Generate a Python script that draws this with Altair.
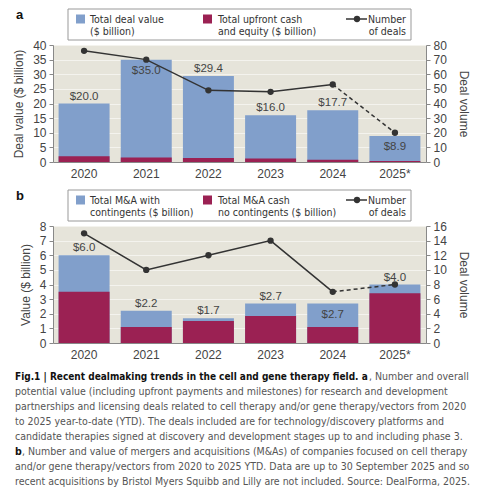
import altair as alt
import pandas as pd

# ---------------- data ----------------
years = ["2020", "2021", "2022", "2023", "2024", "2025*"]

a_total = [20.0, 35.0, 29.4, 16.0, 17.7, 8.9]
a_upfront = [2.0, 1.5, 1.4, 1.2, 0.8, 0.3]
a_deals = [76, 70, 49, 48, 53, 20]
a_label_inside = [False, True, False, False, False, True]

b_total = [6.0, 2.2, 1.7, 2.7, 2.7, 4.0]
b_cash = [3.5, 1.1, 1.5, 1.85, 1.1, 3.4]
b_deals = [15, 10, 12, 14, 7, 8]
b_label_inside = [False, False, False, False, True, False]

caption_lines = [
    "potential value (including upfront payments and milestones) for research and development",
    "partnerships and licensing deals related to cell therapy and/or gene therapy/vectors from 2020",
    "to 2025 year-to-date (YTD). The deals included are for technology/discovery platforms and",
    "candidate therapies signed at discovery and development stages up to and including phase 3.",
]
caption_lines_b = [
    "and/or gene therapy/vectors from 2020 to 2025 YTD. Data are up to 30 September 2025 and so",
    "recent acquisitions by Bristol Myers Squibb and Lilly are not included. Source: DealForma, 2025.",
]

# ---------------- style ----------------
FONT = "Liberation Sans"
COND = "DejaVu Sans Condensed"
BLUE = "#819fcb"
MAROON = "#9b2153"
BG = "#e6e4da"
INK = "#333333"
W = 373
H = 117

one = pd.DataFrame({"k": [0]})


def deco_text(txt, x, y, size=10.5, weight="normal", color="#333333", font=COND, align="left"):
    return alt.Chart(one).mark_text(
        text=txt, align=align, baseline="alphabetic", font=font, fontSize=size,
        fontWeight=weight, color=color,
    ).encode(x=alt.value(x), y=alt.value(y))


def panel(letter, total, part, deals, inside, lmax, lstep, rmax, rstep, ltitle,
          leg1, leg2, extra=()):
    df = pd.DataFrame({"year": years, "total": total, "part": part,
                       "deals": deals, "inside": inside})
    xenc = alt.X("year:N", sort=years, title=None,
                 scale=alt.Scale(paddingInner=0.18, paddingOuter=0.09),
                 axis=alt.Axis(labelAngle=0, ticks=False, domainColor="#888",
                               labelPadding=6, grid=False))
    laxis = alt.Axis(title=ltitle, values=list(range(0, lmax + 1, lstep)),
                     grid=True, gridColor="white", gridOpacity=0.55, titlePadding=7)
    lscale = alt.Scale(domain=[0, lmax], nice=False, zero=True)
    base = alt.Chart(df)
    bars_total = base.mark_bar(color=BLUE).encode(
        x=xenc, y=alt.Y("total:Q", scale=lscale, axis=laxis))
    bars_part = base.mark_bar(color=MAROON).encode(
        x=xenc, y=alt.Y("part:Q", scale=lscale, axis=laxis))
    lab_above = base.transform_filter("!datum.inside").mark_text(
        baseline="bottom", dy=-2, font=FONT, fontSize=11.5, color="#444").encode(
        x=xenc, y=alt.Y("total:Q", scale=lscale, axis=laxis),
        text=alt.Text("total:Q", format="$.1f"))
    lab_inside = base.transform_filter("datum.inside").mark_text(
        baseline="top", dy=5, font=FONT, fontSize=11.5, color="#444").encode(
        x=xenc, y=alt.Y("total:Q", scale=lscale, axis=laxis),
        text=alt.Text("total:Q", format="$.1f"))
    left = alt.layer(bars_total, bars_part, lab_above, lab_inside)

    raxis = alt.Axis(title="Deal volume", orient="right",
                     values=list(range(0, rmax + 1, rstep)), grid=False, titlePadding=10)
    rscale = alt.Scale(domain=[0, rmax], nice=False, zero=True)
    yr = alt.Y("deals:Q", scale=rscale, axis=raxis)
    solid = base.transform_filter("datum.year != '2025*'").mark_line(
        color=INK, strokeWidth=1.5).encode(x=xenc, y=yr)
    dashed = base.transform_filter("datum.year == '2024' || datum.year == '2025*'").mark_line(
        color=INK, strokeWidth=1.5, strokeDash=[4, 3]).encode(x=xenc, y=yr)
    pts = base.mark_point(filled=True, color=INK, size=40, opacity=1).encode(x=xenc, y=yr)
    right = alt.layer(solid, dashed, pts)

    # custom legend
    bt, bb = -36, -5
    box = alt.Chart(one).mark_rect(fill="white", stroke="#999", strokeWidth=1).encode(
        x=alt.value(15), x2=alt.value(358), y=alt.value(bt), y2=alt.value(bb))
    sq1 = alt.Chart(one).mark_rect(color=BLUE).encode(
        x=alt.value(23), x2=alt.value(32), y=alt.value(bt + 5.5), y2=alt.value(bt + 14.5))
    sq2 = alt.Chart(one).mark_rect(color=MAROON).encode(
        x=alt.value(150), x2=alt.value(159), y=alt.value(bt + 5.5), y2=alt.value(bt + 14.5))
    lines = [
        deco_text(leg1[0], 37, bt + 13.5), deco_text(leg1[1], 37, bt + 25.5),
        deco_text(leg2[0], 165, bt + 13.5), deco_text(leg2[1], 165, bt + 25.5),
        deco_text("Number", 353, bt + 13.5, align="right"),
        deco_text("of deals", 353, bt + 25.5, align="right"),
    ]
    lr = alt.Chart(one).mark_rule(color=INK, strokeWidth=1.5).encode(
        x=alt.value(293), x2=alt.value(314), y=alt.value(bt + 10))
    lp = alt.Chart(one).mark_point(filled=True, color=INK, size=40, opacity=1).encode(
        x=alt.value(304), y=alt.value(bt + 10))
    let = deco_text(letter, -37, bt + 10, size=13, weight="bold", color="#111", font=FONT)

    return alt.layer(
        alt.layer(left, right).resolve_scale(y="independent"),
        box, sq1, sq2, lr, lp, let, *lines, *extra,
    ).properties(width=W, height=H)


pa = panel("a", a_total, a_upfront, a_deals, a_label_inside, 40, 5, 80, 10,
           "Deal value ($ billion)",
           ["Total deal value", "($ billion)"],
           ["Total upfront cash", "and equity ($ billion)"])

# caption (anchored below panel b)
cap0 = 154
LS = 15
CS = 10.5
cap = []
cap.append(deco_text("Fig.1 | Recent dealmaking trends in the cell and gene therapy field. a",
                     -38, cap0, size=10, weight="bold", color="#111"))
cap.append(deco_text(", Number and overall", 316, cap0, size=CS, color="#555"))
for i, line in enumerate(caption_lines):
    cap.append(deco_text(line, -38, cap0 + LS * (i + 1), size=CS, color="#555"))
cap.append(deco_text("b", -38, cap0 + LS * 5, size=CS, weight="bold", color="#111"))
cap.append(deco_text(", Number and value of mergers and acquisitions (M&As) of companies focused on cell therapy",
                     -31, cap0 + LS * 5, size=CS, color="#555"))
for i, line in enumerate(caption_lines_b):
    cap.append(deco_text(line, -38, cap0 + LS * (6 + i), size=CS, color="#555"))

pb = panel("b", b_total, b_cash, b_deals, b_label_inside, 8, 1, 16, 2,
           "Value ($ billion)",
           ["Total M&A with", "contingents ($ billion)"],
           ["Total M&A cash", "no contingents ($ billion)"], extra=cap)

chart = alt.vconcat(pa, pb, spacing=10).properties(
    padding={"left": 4, "top": 0, "right": 0, "bottom": 0},
    background="white",
).configure_view(stroke=None, fill=BG).configure_axis(
    labelFont=FONT, labelFontSize=12, labelColor="#444",
    titleFont=FONT, titleFontSize=12, titleColor="#444", titleFontWeight="normal",
    tickColor="#888", domainColor="#888", tickSize=4, labelPadding=3,
)

chart.save("out.html", embed_options={"renderer": "svg", "actions": False})
